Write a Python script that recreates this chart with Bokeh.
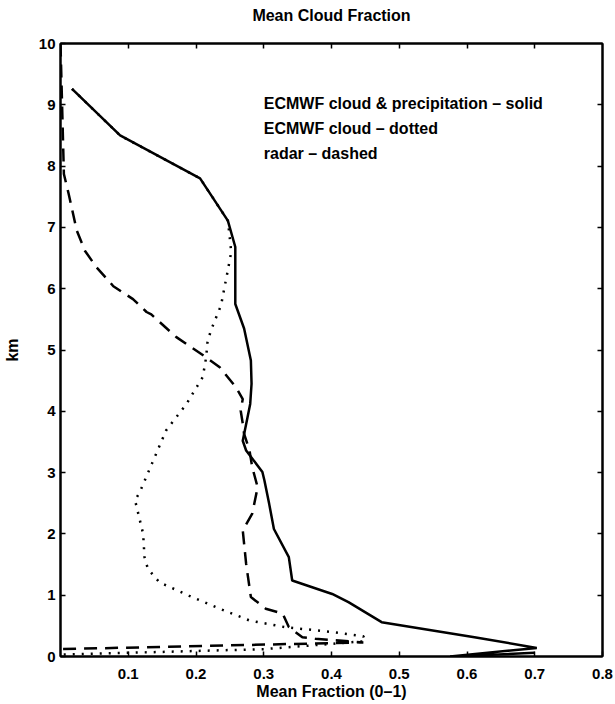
from bokeh.plotting import figure
from bokeh.models import LinearAxis, FixedTicker, Label, Range1d
from bokeh.embed import file_html
from bokeh.resources import INLINE

# Mean cloud fraction profiles (fraction vs. height in km)
precip_km = [9.26, 8.50, 7.80, 7.11, 6.68, 5.75, 5.35, 4.83, 4.45, 4.12, 3.90,
             3.52, 3.36, 3.01, 2.87, 2.49, 2.08, 1.62, 1.24, 1.02, 0.886, 0.56,
             0.315, 0.14, 0.0, 0.06]
precip_frac = [0.017, 0.088, 0.206, 0.247, 0.258, 0.258, 0.271, 0.281, 0.282,
               0.280, 0.276, 0.269, 0.274, 0.298, 0.301, 0.308, 0.315, 0.337,
               0.342, 0.401, 0.425, 0.474, 0.611, 0.703, 0.575, 0.700]

cloud_km = [9.26, 8.50, 7.80, 7.11, 6.92, 6.60, 6.30, 6.02, 5.73, 5.32, 5.13,
            4.88, 4.56, 4.12, 3.69, 3.20, 2.68, 2.55, 2.00, 1.62, 1.43, 1.21,
            0.99, 0.78, 0.587, 0.478, 0.40, 0.33, 0.25, 0.12, 0.03]
cloud_frac = [0.017, 0.088, 0.206, 0.247, 0.249, 0.252, 0.247, 0.242, 0.237,
              0.222, 0.217, 0.215, 0.210, 0.186, 0.156, 0.137, 0.117, 0.110,
              0.122, 0.124, 0.129, 0.146, 0.190, 0.235, 0.279, 0.332, 0.401,
              0.447, 0.450, 0.300, 0.0]

radar_km = [10.0, 7.87, 7.55, 6.95, 6.62, 6.35, 6.13, 6.04, 5.83, 5.62, 5.58,
            5.21, 4.88, 4.72, 4.39, 4.20, 4.01, 3.80, 3.63, 3.36, 3.09, 2.76,
            2.33, 2.06, 1.51, 0.97, 0.78, 0.70, 0.48, 0.315, 0.29, 0.23, 0.12]
radar_frac = [0.0, 0.005, 0.012, 0.024, 0.036, 0.053, 0.071, 0.078, 0.107,
              0.127, 0.134, 0.171, 0.215, 0.235, 0.259, 0.269, 0.266, 0.269,
              0.271, 0.279, 0.283, 0.291, 0.283, 0.269, 0.274, 0.281, 0.303,
              0.328, 0.337, 0.357, 0.376, 0.447, 0.0]

x_ticks = [0.1, 0.2, 0.3, 0.4, 0.5, 0.6, 0.7, 0.8]
y_ticks = [0, 1, 2, 3, 4, 5, 6, 7, 8, 9, 10]

title_text = "Mean Cloud Fraction"
notes = ["ECMWF cloud & precipitation – solid",
         "ECMWF cloud – dotted",
         "radar – dashed"]
notes_x = 0.30
notes_y = [9.02, 8.61, 8.20]

FONT = "Liberation Sans"

p = figure(width=615, height=704, output_backend="svg", toolbar_location=None,
           x_range=Range1d(0, 0.8), y_range=Range1d(0, 10),
           min_border_left=57, min_border_right=13,
           min_border_top=43, min_border_bottom=48,
           x_axis_label="Mean Fraction (0–1)", y_axis_label="km")
p.background_fill_color = "white"
p.border_fill_color = "white"
p.grid.visible = False
p.outline_line_color = "black"
p.outline_line_width = 2


def style_axis(ax, ticks, show_labels):
    ax.ticker = FixedTicker(ticks=ticks)
    ax.axis_line_color = "black"
    ax.axis_line_width = 2
    ax.major_tick_in = 5
    ax.major_tick_out = 0
    ax.major_tick_line_width = 1.5
    ax.major_tick_line_color = "black"
    ax.minor_tick_line_color = None
    ax.major_label_text_font = FONT
    ax.major_label_text_font_style = "bold"
    ax.major_label_text_color = "black"
    ax.axis_label_text_font = FONT
    ax.axis_label_text_font_size = "16px"
    ax.axis_label_text_font_style = "bold"
    ax.axis_label_text_color = "black"
    if show_labels:
        ax.major_label_text_font_size = "15px"
    else:
        ax.major_label_text_font_size = "1px"
        ax.major_label_standoff = 0
        ax.major_label_text_color = None


style_axis(p.xaxis[0], x_ticks, True)
style_axis(p.yaxis[0], y_ticks, True)
p.xaxis[0].major_label_standoff = 12
p.xaxis[0].axis_label_standoff = 1
p.yaxis[0].major_label_standoff = 5
p.yaxis[0].axis_label_standoff = 15

right_axis = LinearAxis()
style_axis(right_axis, y_ticks[1:-1], False)
p.add_layout(right_axis, "right")

# the top axis carries the heading as its label
top_axis = LinearAxis(axis_label=title_text)
style_axis(top_axis, x_ticks[:-1], False)
top_axis.axis_label_standoff = 20
p.add_layout(top_axis, "above")

p.line(precip_frac, precip_km, line_color="black", line_width=2.5)
p.line(cloud_frac, cloud_km, line_color="black", line_width=2.5,
       line_dash="2 7")
p.line(radar_frac, radar_km, line_color="black", line_width=2.5,
       line_dash="13 8")

for txt, ty in zip(notes, notes_y):
    p.add_layout(Label(x=notes_x, y=ty, text=txt, text_font=FONT,
                       text_font_size="16px", text_font_style="bold",
                       text_baseline="middle", text_color="black"))

open("out.html", "w").write(file_html(p, INLINE))
